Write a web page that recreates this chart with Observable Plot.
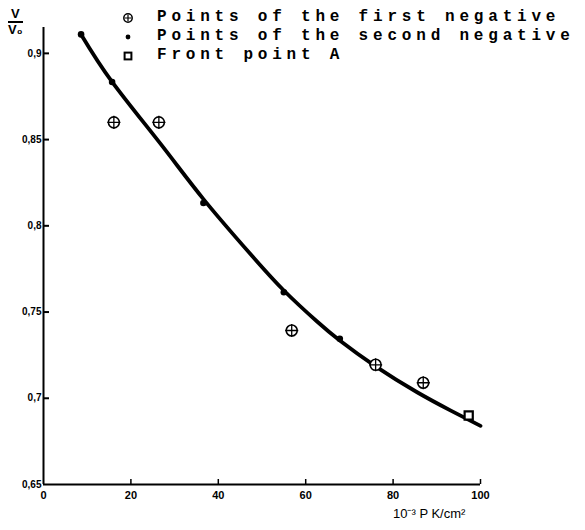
<!DOCTYPE html>
<html>
<head>
<meta charset="utf-8">
<script src="https://cdn.jsdelivr.net/npm/d3@7"></script>
<script src="https://cdn.jsdelivr.net/npm/@observablehq/plot@0.6"></script>
<style>
  body { margin: 0; background: #fff; }
  #wrap { position: relative; width: 585px; height: 530px; }
  #wrap > svg { position: absolute; left: 0; top: 0; }
  .ov { position: absolute; color: #000; }
  #ylab { left: 8px; top: 7px; font: bold 13px "Liberation Sans", sans-serif; text-align: center; line-height: 13px; }
  #ylab .num { display: block; border-bottom: 2px solid #000; padding: 0 2px 1px 2px; }
  #xlab { left: 393px; top: 504px; font: 13px "Liberation Sans", sans-serif; white-space: nowrap; }
  #legend { left: 121px; top: 8px; font: bold 16px "Liberation Mono", monospace; letter-spacing: 4.8px; }
  #legend .row { height: 19px; line-height: 19px; white-space: nowrap; display: flex; align-items: center; }
  #legend svg { position: static; margin-right: 22px; flex: none; }
</style>
</head>
<body>
<div id="wrap"></div>
<script>
// ---- data ----
const xTicks = [0, 20, 40, 60, 80, 100];
const yTicks = [0.65, 0.7, 0.75, 0.8, 0.85, 0.9];
const yTickLabels = ["0,65", "0,7", "0,75", "0,8", "0,85", "0,9"];

// fitted curve
const curveX = [8.6, 15.7, 26.8, 36.6, 47.4, 55.0, 62.6, 67.8, 76.0, 85.5, 93.1, 100];
const curveY = [0.911, 0.8835, 0.8475, 0.8155, 0.7835, 0.7625, 0.7445, 0.7335, 0.7185, 0.7035, 0.6930, 0.6840];

// points of the first negative (circled plus)
const firstX = [16.1, 26.4, 56.8, 76.0, 86.9];
const firstY = [0.860, 0.860, 0.7393, 0.7194, 0.709];

// points of the second negative (filled dots)
const secondX = [8.6, 15.7, 36.6, 55.0, 67.8];
const secondY = [0.911, 0.8834, 0.8132, 0.7615, 0.7345];

// front point A (open square)
const frontX = [97.3];
const frontY = [0.690];

const legendLabels = ["Points of the first negative", "Points of the second negative", "Front point A"];
const legendSymbols = ["circleplus", "dot", "square"];
const yAxisTop = "V";
const yAxisBottom = "V\u2080";
const xAxisLabel = "10\u207B\u00B3 P K/cm\u00B2";

// ---- tables ----
const curve = curveX.map((x, i) => ({x, y: curveY[i]}));
const first = firstX.map((x, i) => ({x, y: firstY[i]}));
const second = secondX.map((x, i) => ({x, y: secondY[i]}));
const front = frontX.map((x, i) => ({x, y: frontY[i]}));

const W = 585, H = 530;
const mL = 43, mR = 105, mT = 27, mB = 46;
const innerW = W - mL - mR, innerH = H - mT - mB;

const chart = Plot.plot({
  width: W, height: H,
  marginLeft: mL, marginRight: mR, marginTop: mT, marginBottom: mB,
  x: {domain: [0, 100]},
  y: {domain: [0.65, 0.915]},
  style: {background: "white", color: "black", fontFamily: "Liberation Sans, sans-serif"},
  marks: [
    Plot.axisX({ticks: xTicks, tickSize: 0, tickPadding: 7, fontSize: 11, fontWeight: "bold", label: null}),
    Plot.axisY({ticks: yTicks, tickSize: 0, tickPadding: 2, fontSize: 10, fontWeight: "bold", label: null,
      tickFormat: d => yTickLabels[yTicks.findIndex(t => Math.abs(t - d) < 1e-9)]}),
    Plot.ruleX([0], {stroke: "black", strokeWidth: 2}),
    Plot.ruleY([0.65], {stroke: "black", strokeWidth: 2}),
    Plot.tickX(xTicks.filter(d => d > 0), {x: d => d, insetTop: innerH - 5, stroke: "black", strokeWidth: 1.5}),
    Plot.tickY(yTicks.filter(d => d > 0.65), {y: d => d, insetRight: innerW - 6, stroke: "black", strokeWidth: 2}),
    Plot.line(curve, {x: "x", y: "y", curve: "natural", stroke: "black", strokeWidth: 3.8, strokeLinecap: "round"}),
    Plot.dot(second, {x: "x", y: "y", r: 3.3, fill: "black", stroke: "none"}),
    Plot.dot(first, {x: "x", y: "y", r: 5.5, fill: "white", stroke: "black", strokeWidth: 1.6}),
    Plot.dot(first, {x: "x", y: "y", symbol: "plus", r: 4.3, stroke: "black", strokeWidth: 1.3}),
    Plot.dot(front, {x: "x", y: "y", symbol: "square", r: 4.6, fill: "white", stroke: "black", strokeWidth: 2.2})
  ]
});

const wrap = document.getElementById("wrap");
wrap.appendChild(chart);

// y-axis title (fraction)
const yl = document.createElement("div");
yl.className = "ov"; yl.id = "ylab";
yl.innerHTML = `<span class="num">${yAxisTop}</span><span>${yAxisBottom}</span>`;
wrap.appendChild(yl);

// x-axis title
const xl = document.createElement("div");
xl.className = "ov"; xl.id = "xlab";
xl.textContent = xAxisLabel;
wrap.appendChild(xl);

// legend
function symbolSvg(kind) {
  let inner = "";
  if (kind === "circleplus") inner = `<circle cx="7" cy="7" r="4.2" fill="white" stroke="black" stroke-width="1.5"/><path d="M7 3.8V10.2M3.8 7H10.2" stroke="black" stroke-width="1.2"/>`;
  if (kind === "dot") inner = `<circle cx="7" cy="7" r="2.4" fill="black"/>`;
  if (kind === "square") inner = `<rect x="3.6" y="3.6" width="6.8" height="6.8" fill="white" stroke="black" stroke-width="2"/>`;
  return `<svg width="14" height="14" viewBox="0 0 14 14">${inner}</svg>`;
}
const lg = document.createElement("div");
lg.className = "ov"; lg.id = "legend";
legendLabels.forEach((t, i) => {
  const row = document.createElement("div");
  row.className = "row";
  row.innerHTML = symbolSvg(legendSymbols[i]) + `<span>${t}</span>`;
  lg.appendChild(row);
});
wrap.appendChild(lg);
</script>
</body>
</html>
